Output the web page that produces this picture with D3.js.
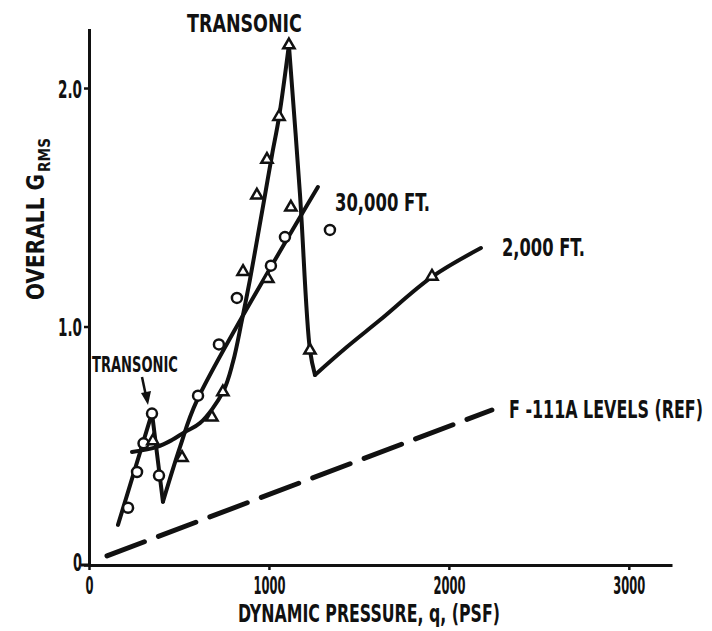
<!DOCTYPE html>
<html>
<head>
<meta charset="utf-8">
<script src="https://cdn.jsdelivr.net/npm/d3@7"></script>
<style>
  html, body { margin: 0; padding: 0; background: #fff; }
  svg text { font-family: 'DejaVu Sans Condensed', 'Liberation Sans Narrow', 'Roboto Condensed', 'DejaVu Sans', sans-serif; font-weight: bold; fill: #111; }
</style>
</head>
<body>
<svg id="chart" width="712" height="631"></svg>
<script>
// Overall Grms vs dynamic pressure, q (psf)
const xTicks = [0, 1000, 2000, 3000];
const yTicks = [0, 1.0, 2.0];
const yTickLabels = ["0", "1.0", "2.0"];

// 30,000 ft flight (circles)
const pts30k = [[217, 0.24], [267, 0.39], [303, 0.51], [350, 0.635], [389, 0.375],
                [606, 0.71], [722, 0.925], [822, 1.12], [1011, 1.255], [1089, 1.375], [1339, 1.405]];
const curve30kRise = [[161, 0.168], [350, 0.637]];
const curve30kDrop = [[350, 0.637], [411, 0.265]];
const curve30kClimb = [[411, 0.265], [506, 0.495], [600, 0.69], [1272, 1.585]];

// 2,000 ft flight (triangles)
const pts2k = [[355, 0.52], [517, 0.45], [683, 0.62], [744, 0.725], [856, 1.23], [933, 1.55],
               [989, 1.70], [994, 1.20], [1056, 1.88], [1111, 2.18], [1122, 1.50], [1228, 0.90], [1906, 1.21]];
const curve2kRise = [[239, 0.474], [378, 0.495], [461, 0.524], [533, 0.558], [617, 0.595],
                     [744, 0.725], [800, 0.851], [850, 1.027], [894, 1.195], [939, 1.384],
                     [978, 1.551], [1017, 1.719], [1056, 1.878], [1111, 2.18]];
const curve2kDrop = [[1111, 2.18], [1172, 1.56], [1228, 0.901], [1256, 0.797]];
const curve2kRecover = [[1256, 0.797], [1433, 0.914], [1617, 1.027], [1906, 1.208], [2178, 1.329]];

// F-111A reference levels (dashed)
const refF111 = [[100, 0.038], [2239, 0.65]];

const svg = d3.select("#chart");
const x = d3.scaleLinear().domain([0, 3240]).range([89, 672]);
const y = d3.scaleLinear().domain([0, 2.25]).range([565, 28.4]);

// condensed lettering: draw at a given size, then squeeze horizontally to a target width
function fitText(parent, str, tx, ty, size, width) {
  const g = parent.append("g").attr("transform", `translate(${tx},${ty})`);
  const t = g.append("text").attr("font-size", size).text(str);
  const w = t.node().getComputedTextLength();
  t.attr("transform", `scale(${width / w},1)`);
  return t;
}

// axes
const xAxis = d3.axisBottom(x).tickValues(xTicks).tickSize(5).tickSizeOuter(0).tickFormat(d3.format("d"));
const gx = svg.append("g").attr("transform", `translate(0,${y(0)})`).call(xAxis);
gx.select(".domain").attr("stroke", "#111").attr("stroke-width", 3);
gx.selectAll(".tick line").attr("stroke", "#111").attr("stroke-width", 2.5);
gx.selectAll(".tick text")
  .attr("y", 29).attr("dy", "0").attr("font-size", 25).attr("fill", "#111")
  .attr("textLength", d => String(d).length * 8).attr("lengthAdjust", "spacingAndGlyphs");

const yAxis = d3.axisLeft(y).tickValues(yTicks).tickSize(5).tickSizeOuter(0)
  .tickFormat((d, i) => yTickLabels[i]);
const gy = svg.append("g").attr("transform", `translate(${x(0)},0)`).call(yAxis);
gy.select(".domain").attr("stroke", "#111").attr("stroke-width", 3);
gy.selectAll(".tick line").attr("stroke", "#111").attr("stroke-width", 2.5);
gy.selectAll(".tick text")
  .attr("x", -7).attr("dy", (d, i) => i === 0 ? "0.2em" : "0.36em").attr("font-size", 25).attr("fill", "#111")
  .attr("textLength", (d, i) => yTickLabels[i].length === 1 ? 9 : 24).attr("lengthAdjust", "spacingAndGlyphs");

// short stub of the x axis left of the origin
svg.append("line").attr("x1", x(0) - 8).attr("x2", x(0)).attr("y1", y(0)).attr("y2", y(0))
  .attr("stroke", "#111").attr("stroke-width", 3);

// axis titles
fitText(svg, "DYNAMIC PRESSURE, q, (PSF)", 238, 622, 24, 262);

const ytitle = svg.append("g").attr("transform", "translate(44,300) rotate(-90)");
fitText(ytitle, "OVERALL G", 0, 0, 24, 126);
fitText(ytitle, "RMS", 128, 6, 15, 34);

// curves
const lineLinear = d3.line().x(d => x(d[0])).y(d => y(d[1]));
const lineSmooth = d3.line().x(d => x(d[0])).y(d => y(d[1])).curve(d3.curveCatmullRom.alpha(0.5));

const drawCurve = (data, gen) => svg.append("path").datum(data).attr("d", gen)
  .attr("fill", "none").attr("stroke", "#111").attr("stroke-width", 4)
  .attr("stroke-linejoin", "miter").attr("stroke-linecap", "round");

drawCurve(curve30kRise, lineLinear);
drawCurve(curve30kDrop, lineLinear);
drawCurve(curve30kClimb, lineSmooth);
drawCurve(curve2kRise, lineSmooth);
drawCurve(curve2kDrop, lineSmooth);
drawCurve(curve2kRecover, lineSmooth);

svg.append("path").datum(refF111).attr("d", lineLinear)
  .attr("fill", "none").attr("stroke", "#111").attr("stroke-width", 5)
  .attr("stroke-dasharray", "40,15").attr("stroke-linecap", "round");

// markers
svg.append("g").selectAll("circle").data(pts30k).join("circle")
  .attr("cx", d => x(d[0])).attr("cy", d => y(d[1])).attr("r", 5)
  .attr("fill", "#fff").attr("stroke", "#111").attr("stroke-width", 2.5);

const tri = d3.symbol().type(d3.symbolTriangle).size(55);
svg.append("g").selectAll("path").data(pts2k).join("path")
  .attr("transform", d => `translate(${x(d[0])},${y(d[1])})`).attr("d", tri)
  .attr("fill", "#fff").attr("stroke", "#111").attr("stroke-width", 2.5);

// annotations
fitText(svg, "TRANSONIC", 187, 32, 25, 115);
fitText(svg, "TRANSONIC", 92, 372, 22, 86);
svg.append("line").attr("x1", 142).attr("y1", 377).attr("x2", 146).attr("y2", 396)
  .attr("stroke", "#111").attr("stroke-width", 2.5);
svg.append("path").attr("d", "M141,393 L151,391 L148,405 Z").attr("fill", "#111");

fitText(svg, "30,000 FT.", 335, 211, 25, 95);
fitText(svg, "2,000 FT.", 502, 256, 24, 83);
fitText(svg, "F -111A LEVELS (REF)", 509, 418, 24, 194);
</script>
</body>
</html>
